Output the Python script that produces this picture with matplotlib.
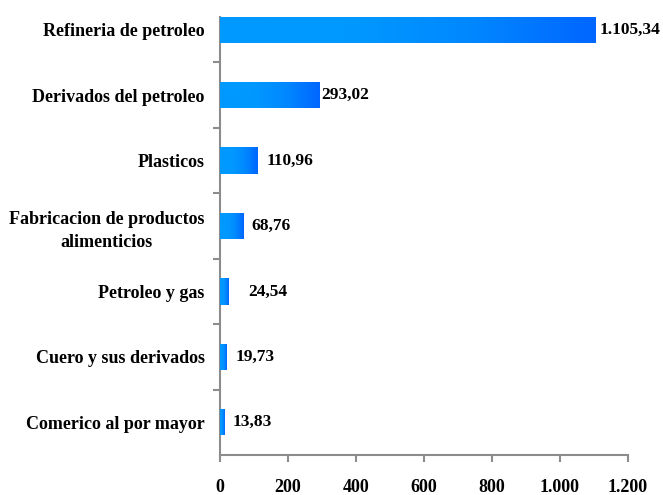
import numpy as np
import matplotlib.pyplot as plt
from matplotlib.colors import LinearSegmentedColormap

categories = ["Refineria de petroleo", "Derivados del petroleo", "Plasticos",
              "Fabricacion de productos\nalimenticios", "Petroleo y gas",
              "Cuero y sus derivados", "Comerico al por mayor"]
values = [1105.34, 293.02, 110.96, 68.76, 24.54, 19.73, 13.83]
value_labels = ["1.105,34", "293,02", "110,96", "68,76", "24,54", "19,73", "13,83"]
xticks = [0, 200, 400, 600, 800, 1000, 1200]
xtick_labels = ["0", "200", "400", "600", "800", "1.000", "1.200"]

font = dict(family="Liberation Serif", weight="bold")
grey = "#8c8c8c"
fs = 13

fig = plt.figure(figsize=(6.63, 4.95), dpi=100)
ax = fig.add_axes([220 / 663, 40 / 495, 408 / 663, 458 / 495])

y = np.arange(len(categories))
bh = 0.4
bars = ax.barh(y, values, height=bh, color="#0099ff", zorder=2)

# horizontal gradient per bar, darker towards the end
cmap = LinearSegmentedColormap.from_list("g", ["#0099ff", "#0099ff", "#0088ff", "#0066ff"])
grad = np.linspace(0, 1, 256).reshape(1, -1)
for b in bars:
    x0, y0 = b.get_x(), b.get_y()
    w, h = b.get_width(), b.get_height()
    im = ax.imshow(grad, cmap=cmap, aspect="auto", extent=[x0, x0 + w, y0 + h, y0],
                   interpolation="bicubic", zorder=3)
    im.set_clip_path(b)

ax.set_xlim(0, 1200)
ax.set_ylim(len(categories) - 0.5, -0.5)

# value labels
gaps_px = [4, 2, 9, 8, 20, 9, 8]
for yi, v, lab, g in zip(y, values, value_labels, gaps_px):
    ax.annotate(lab, (v, yi), xytext=(g * 0.72, 0), textcoords="offset points",
                ha="left", va="center", fontsize=12.5, **font)

for s in ["top", "right"]:
    ax.spines[s].set_visible(False)
for s in ["left", "bottom"]:
    ax.spines[s].set_color(grey)
    ax.spines[s].set_linewidth(1.5)
ax.spines["left"].set_bounds(len(categories) - 0.5, -0.5 + 0.3)

ax.set_xticks(xticks)
ax.set_xticklabels(xtick_labels, fontsize=fs, **font)
ax.tick_params(axis="x", direction="out", length=5, width=1.5, color=grey, pad=12)

ax.set_yticks(y)
ax.set_yticklabels(categories, fontsize=fs, ha="right", multialignment="center",
                   linespacing=1.45, **font)
ax.set_yticks(np.arange(0.5, len(categories) - 0.5, 1), minor=True)
ax.tick_params(axis="y", which="major", length=0, pad=11)
ax.tick_params(axis="y", which="minor", direction="out", length=5, width=1.5, color=grey)

fig.savefig("out.png", dpi=100, facecolor="white")
